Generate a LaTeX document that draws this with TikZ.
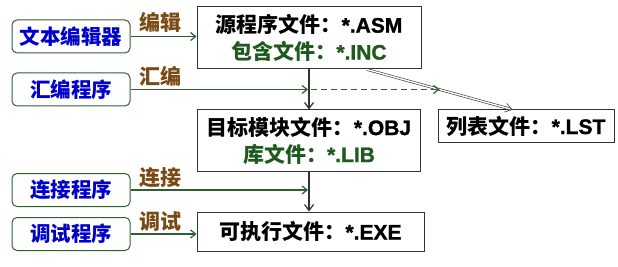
\documentclass[tikz,border=0pt]{standalone}
\usepackage{fontspec}
\setmainfont{Liberation Sans}[BoldFeatures={FakeBold=1.2}]
\newfontfamily\cjk{Noto Sans CJK SC}
\usetikzlibrary{arrows.meta}
\definecolor{toolBlue}{HTML}{0000CC}
\definecolor{fileGreen}{HTML}{1E5A1E}
\definecolor{lineGreen}{HTML}{2F5F2F}
\definecolor{stepBrown}{HTML}{7A4A14}

\begin{document}
\begin{tikzpicture}[x=1pt, y=-1pt,
    tool/.style={draw=lineGreen, rounded corners=5pt, line width=1pt, minimum width=118pt, minimum height=33pt, inner sep=0pt, text=toolBlue, font=\fontsize{20.5}{21}\selectfont\cjk\bfseries},
    file/.style={draw=black!80, line width=1pt, align=center, inner sep=0pt, font=\fontsize{21}{27}\selectfont\bfseries},
    lbl/.style={text=stepBrown, font=\fontsize{21}{21}\selectfont\cjk\bfseries},
    arr/.style={-{Straight Barb[length=5pt,width=8pt]}, lineGreen, line width=1.2pt},
    flow/.style={-{Straight Barb[length=6pt,width=9pt]}, black!80, line width=1.2pt}
  ]
  \useasboundingbox (0,0) rectangle (618,267);

  \node[tool] (edit) at (71,36.5) {文本编辑器};
  \node[tool] (asm) at (71,89.5) {汇编程序};
  \node[tool] (link) at (71,190) {连接程序};
  \node[tool] (debug) at (71,234) {调试程序};

  \node[file, minimum width=224pt, minimum height=62pt] (src) at (309,38)
    {{\cjk 源程序文件：}*.ASM\\\color{fileGreen}{\cjk 包含文件：}*.INC};
  \node[file, minimum width=223pt, minimum height=61pt] (obj) at (309,140.5)
    {{\cjk 目标模块文件：}*.OBJ\\\color{fileGreen}{\cjk 库文件：}*.LIB};
  \node[file, minimum width=227pt, minimum height=39pt] (exe) at (310.5,231.5)
    {{\cjk 可执行文件：}*.EXE};
  \node[file, minimum width=176pt, minimum height=32pt] (lst) at (526,126)
    {{\cjk 列表文件：}*.LST};

  \coordinate (asmhit) at (src.south |- asm.east);
  \coordinate (linkhit) at (obj.south |- link.east);
  \coordinate (lsthit) at ([xshift=2pt]lst.west |- asm.east);

  \draw[flow] (src.south) -- (obj.north);
  \draw[flow] (obj.south) -- (exe.north -| obj.south);
  \draw[flow, double, double distance=1.4pt, line width=0.6pt] ([xshift=58pt]src.south) -- ([xshift=-14pt]lst.north);

  \draw[arr] (edit.east) -- (src.west |- edit.east);
  \draw[arr] (asm.east) -- ([xshift=-1pt]asmhit);
  \draw[arr, dash pattern=on 6pt off 4pt] ([xshift=2pt]asmhit) -- (lsthit);
  \draw[arr] (link.east) -- ([xshift=-1pt]linkhit);
  \draw[arr] (debug.east) -- (exe.west |- debug.east);

  \node[lbl] (editlbl) at (160,22) {编辑};
  \node[lbl] (asmlbl) at (160,76) {汇编};
  \node[lbl] (linklbl) at (160,178) {连接};
  \node[lbl] (debuglbl) at (160,222) {调试};
\end{tikzpicture}
\end{document}
